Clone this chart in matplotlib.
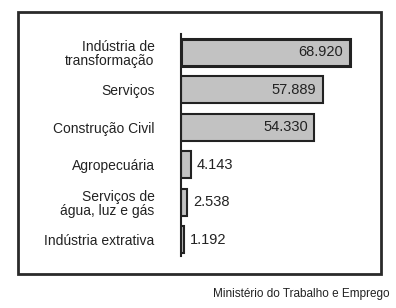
import matplotlib
matplotlib.use("Agg")
import matplotlib.pyplot as plt
from matplotlib.patches import Rectangle

categories = ["Indústria de\ntransformação", "Serviços", "Construção Civil",
              "Agropecuária", "Serviços de\nágua, luz e gás", "Indústria extrativa"]
values = [68.920, 57.889, 54.330, 4.143, 2.538, 1.192]
value_labels = ["68.920", "57.889", "54.330", "4.143", "2.538", "1.192"]
source = "Ministério do Trabalho e Emprego"

plt.rcParams['font.family'] = ['Liberation Sans', 'DejaVu Sans']

W, H = 396, 308
fig = plt.figure(figsize=(W / 100, H / 100), dpi=100)

# outer frame
fig.patches.append(Rectangle((18 / W, 1 - 274 / H), 363 / W, 262 / H,
                             transform=fig.transFigure, fill=False,
                             edgecolor='#2a2a2a', linewidth=2))

ax = fig.add_axes([181 / W, 1 - 256 / H, 179 / W, 222 / H])
ax.set_xlim(0, 179 / 2.45)
ax.set_ylim(5.43, -0.48)
ax.patch.set_visible(False)

pos = list(range(len(categories)))
for i, v in enumerate(values):
    lw = 2.2 if i == 0 else 1.5
    ax.barh(i, v, height=0.72, color='#c2c2c2', edgecolor='#222222', linewidth=lw)

for i, (v, lab) in enumerate(zip(values, value_labels)):
    if v > 20:
        ax.text(v - 2.6, i, lab, ha='right', va='center', fontsize=10.5, color='#222222')
    else:
        ax.text(v + 2.3, i, lab, ha='left', va='center', fontsize=10.5, color='#222222')

ax.set_yticks(pos)
ax.set_yticklabels(categories, fontsize=10, color='#222222', linespacing=1.0,
                   multialignment='right')
ax.tick_params(axis='y', length=0, pad=19)
ax.set_xticks([])
for s in ['top', 'right', 'bottom']:
    ax.spines[s].set_visible(False)
ax.spines['left'].set_color('#222222')
ax.spines['left'].set_linewidth(1.5)

fig.text(390 / W, 1 - 294 / H, source, ha='right', va='center', fontsize=8.5, color='#222222')

fig.savefig("out.png", dpi=100, facecolor='white')
